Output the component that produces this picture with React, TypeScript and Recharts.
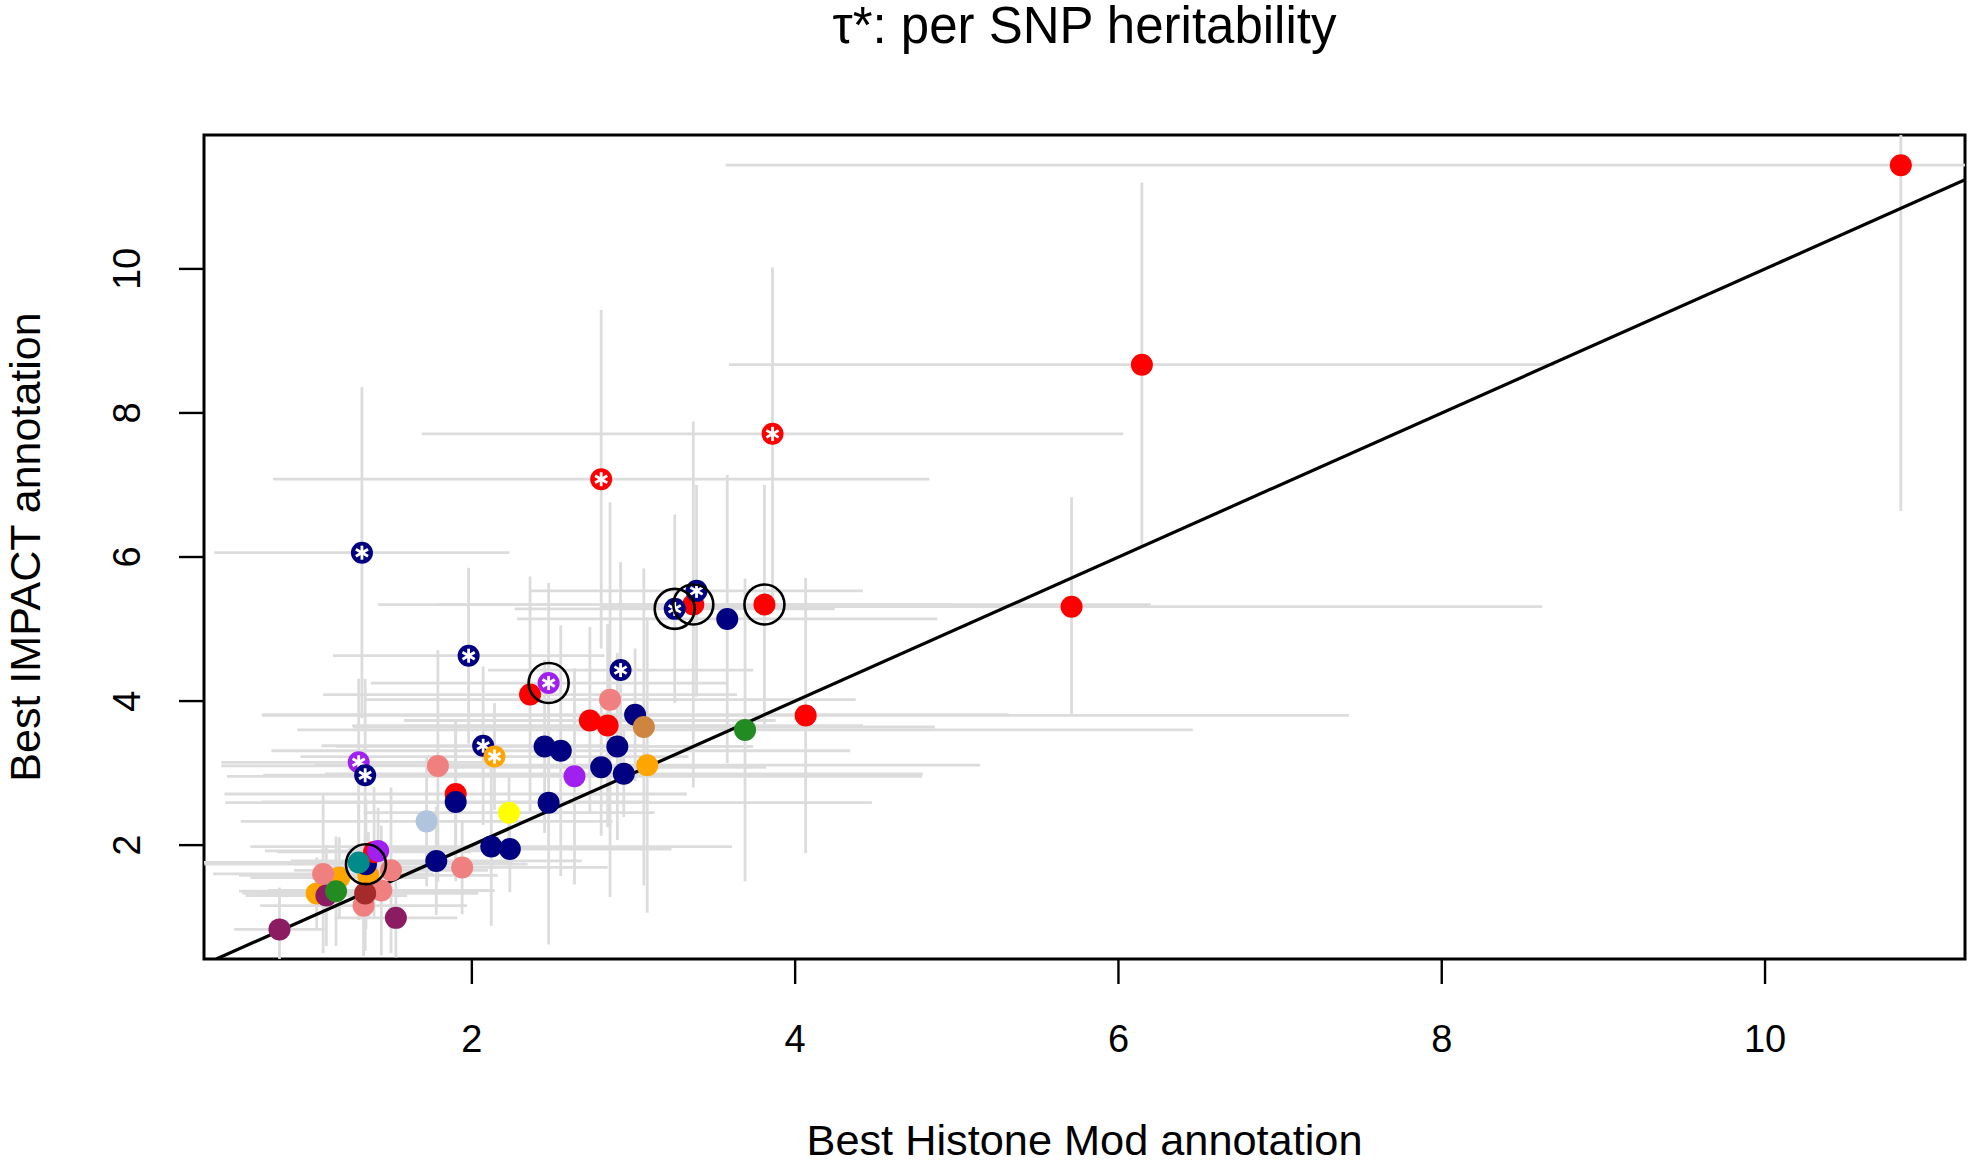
import { ErrorBar, Label, ReferenceArea, Scatter, ScatterChart, XAxis, YAxis } from "recharts";

const FONT = '"Liberation Sans", Arial, Helvetica, sans-serif';

const NAVY = "#000080";
const RED = "#FF0000";
const PINK = "#F08080";
const ORANGE = "#FFA500";
const PURPLE = "#A020F0";
const GREEN = "#228B22";
const PERU = "#CD853F";
const BROWN = "#A52A2A";
const MAROON = "#8B1C62";
const TEAL = "#008B8B";
const YELLOW = "#FFFF00";
const STEEL = "#B0C4DE";

// tau* of the best histone mark annotation (x) and best IMPACT annotation (y), in draw order
const histoneTau = [
  1.04, 1.18, 1.36, 1.08, 1.33, 1.44, 1.5, 1.94, 0.81, 1.1,
  1.53, 1.16, 1.34, 1.345, 1.395, 1.42, 1.3, 1.72, 2.23, 1.79,
  2.855, 1.9, 2.36, 2.73, 2.84, 3.37, 3.81, 4.065, 5.71, 6.145,
  3.86, 2.8, 10.84, 1.3, 2.635, 1.32, 1.98, 2.92, 3.01, 2.45,
  2.55, 2.9, 2.8, 2.94, 2.07, 1.34, 1.9, 2.475, 2.12, 2.235,
  1.78, 3.255, 3.39, 3.58, 2.475, 3.085, 2.14, 3.064, 3.69,
];
const impactTau = [
  1.33, 1.55, 1.58, 1.6, 1.16, 1.37, 1.65, 1.69, 0.83, 1.3,
  0.99, 1.36, 1.33, 1.735, 1.905, 1.92, 1.76, 2.33, 2.45, 3.1,
  4.02, 2.71, 4.09, 3.73, 3.66, 5.34, 5.34, 3.8, 5.31, 8.67,
  7.71, 7.08, 11.44, 3.15, 2.955, 6.06, 4.63, 4.43, 3.81, 3.37,
  3.31, 3.37, 3.08, 2.99, 3.38, 2.97, 2.6, 2.59, 1.98, 1.945,
  1.78, 5.28, 5.53, 5.14, 4.25, 3.11, 3.23, 3.64, 3.6,
];
// half-widths of the grey confidence bars
const histoneCi = [
  0.46, 0.55, 0.8, 0.68, 0.64, 0.7, 0.6, 0.9, 0.28, 0.5,
  0.38, 0.6, 0.7, 1.0, 0.6, 0.7, 0.96, 1.15, 0.9, 1.34,
  1.52, 1.43, 1.28, 1.15, 1.58, 1.6, 2.39, 3.36, 2.91, 2.555,
  2.17, 2.03, 7.27, 0.85, 2.15, 0.913, 0.84, 0.82, 2.31, 1.29,
  1.79, 0.84, 1.02, 1.85, 1.0, 0.63, 1.2, 2.0, 1.49, 1.0,
  0.9, 0.99, 1.03, 1.3, 1.1, 2.06, 1.2, 1.8, 2.77,
];
const impactCi = [
  0.5, 0.56, 0.6, 1.1, 0.7, 0.9, 1.15, 0.65, 0.58, 0.7,
  0.55, 0.76, 0.8, 0.9, 0.9, 0.6, 0.8, 0.9, 0.55, 1.61,
  2.74, 1.0, 1.64, 1.3, 1.41, 2.54, 1.66, 1.91, 1.52, 2.53,
  2.31, 2.35, 4.8, 1.16, 1.5, 2.3, 1.22, 1.5, 0.92, 1.2,
  1.74, 1.3, 0.95, 0.6, 1.1, 1.34, 1.1, 1.97, 1.1, 0.6,
  0.75, 1.31, 1.47, 2.0, 1.39, 2.05, 0.74, 2.2, 2.1,
];
const dotColors = [
  ORANGE, ORANGE, ORANGE, PINK, PINK, PINK, PINK, PINK, MAROON, MAROON,
  MAROON, GREEN, BROWN, NAVY, RED, PURPLE, TEAL, STEEL, YELLOW, PINK,
  PINK, RED, RED, RED, RED, RED, RED, RED, RED, RED,
  RED, RED, RED, PURPLE, PURPLE, NAVY, NAVY, NAVY, NAVY, NAVY,
  NAVY, NAVY, NAVY, NAVY, NAVY, NAVY, NAVY, NAVY, NAVY, NAVY,
  NAVY, NAVY, NAVY, NAVY, PURPLE, ORANGE, ORANGE, PERU, GREEN,
];
// 1 = white asterisk inside the dot
const starFlags = [
  0, 0, 0, 0, 0, 0, 0, 0, 0, 0,
  0, 0, 0, 0, 0, 0, 0, 0, 0, 0,
  0, 0, 0, 0, 0, 0, 0, 0, 0, 0,
  1, 1, 0, 1, 0, 1, 1, 1, 0, 0,
  0, 0, 0, 0, 1, 1, 0, 0, 0, 0,
  0, 1, 1, 0, 1, 0, 1, 0, 0,
];
// 1 = black ring around the dot
const ringFlags = [
  0, 0, 0, 0, 0, 0, 0, 0, 0, 0,
  0, 0, 0, 1, 0, 0, 0, 0, 0, 0,
  0, 0, 0, 0, 0, 1, 1, 0, 0, 0,
  0, 0, 0, 0, 0, 0, 0, 0, 0, 0,
  0, 0, 0, 0, 0, 0, 0, 0, 0, 0,
  0, 1, 0, 0, 1, 0, 0, 0, 0,
];

const TICKS = [2, 4, 6, 8, 10];
const X_DOMAIN: [number, number] = [0.343, 11.237];
const Y_DOMAIN: [number, number] = [0.419, 11.859];
const IDENTITY = [0.419, 11.237];

// plot area in pixels (used for the error bar clip only)
const PLOT = { left: 204, top: 135, width: 1761, height: 824 };

const points = histoneTau.map((x, i) => ({
  x,
  y: impactTau[i],
  xe: histoneCi[i],
  ye: impactCi[i],
  color: dotColors[i],
  star: starFlags[i] === 1,
  ring: ringFlags[i] === 1,
}));
const ringed = points.filter((p) => p.ring);
const identityLine = IDENTITY.map((v) => ({ x: v, y: v }));

const Nothing = () => <g />;

// y = x line, drawn through the points Recharts computed for the two ends
function IdentityPath(props: any) {
  const pts = props.points ?? [];
  if (pts.length < 2) return <g />;
  const d = pts.map((p: any, i: number) => `${i ? "L" : "M"}${p.x},${p.y}`).join("");
  return <path d={d} fill="none" stroke="#000" strokeWidth={3.2} />;
}

function Dot(props: any) {
  const { cx, cy, payload } = props;
  if (cx == null || cy == null) return <g />;
  return (
    <g>
      <circle cx={cx} cy={cy} r={11} fill={payload.color} />
      {payload.star && (
        <g stroke="#fff" strokeWidth={2.8}>
          <line x1={cx} y1={cy - 7} x2={cx} y2={cy + 7} />
          <line x1={cx - 6.1} y1={cy - 3.5} x2={cx + 6.1} y2={cy + 3.5} />
          <line x1={cx - 6.1} y1={cy + 3.5} x2={cx + 6.1} y2={cy - 3.5} />
        </g>
      )}
    </g>
  );
}

function Ring(props: any) {
  const { cx, cy } = props;
  if (cx == null || cy == null) return <g />;
  return <circle cx={cx} cy={cy} r={20} fill="none" stroke="#000" strokeWidth={2.6} />;
}

function XTick({ x, y, payload }: any) {
  return (
    <text x={x} y={y + 68} textAnchor="middle" fontSize={38} fontFamily={FONT} fill="#000">
      {payload.value}
    </text>
  );
}

function YTick({ x, y, payload }: any) {
  const bx = x - 39;
  return (
    <text
      x={bx}
      y={y}
      transform={`rotate(-90 ${bx} ${y})`}
      textAnchor="middle"
      fontSize={38}
      fontFamily={FONT}
      fill="#000"
    >
      {payload.value}
    </text>
  );
}

function XTitle() {
  return (
    <text x={1084.5} y={1155} textAnchor="middle" fontSize={43.3} fontFamily={FONT} fill="#000">
      Best Histone Mod annotation
    </text>
  );
}

function YTitle() {
  return (
    <text
      x={40}
      y={547}
      transform="rotate(-90 40 547)"
      textAnchor="middle"
      fontSize={43}
      fontFamily={FONT}
      fill="#000"
    >
      Best IMPACT annotation
    </text>
  );
}

export default function App() {
  return (
    <div style={{ position: "relative", width: 1973, height: 1164, background: "#fff" }}>
      <style>
        {"body{margin:0}" +
          ".recharts-errorBars,.recharts-errorBar{clip-path:url(#plot-clip)}" +
          ".recharts-scatter-line path{stroke:#000;stroke-width:3.2px}"}
      </style>
      <svg width={0} height={0} style={{ position: "absolute" }}>
        <defs>
          <clipPath id="plot-clip" clipPathUnits="userSpaceOnUse">
            <rect x={PLOT.left} y={PLOT.top} width={PLOT.width} height={PLOT.height} />
          </clipPath>
        </defs>
      </svg>
      <div
        style={{
          position: "absolute",
          top: 1,
          left: PLOT.left,
          width: PLOT.width,
          height: 50,
          lineHeight: "50px",
          textAlign: "center",
          fontFamily: FONT,
          fontSize: 51,
          color: "#000",
        }}
      >
        τ*: per SNP heritability
      </div>
      <ScatterChart width={1973} height={1164} margin={{ top: 135, right: 8, bottom: 0, left: 0 }}>
        <XAxis
          type="number"
          dataKey="x"
          domain={X_DOMAIN}
          allowDataOverflow
          ticks={TICKS}
          height={205}
          axisLine={false}
          tickLine={{ stroke: "#000", strokeWidth: 2.4 }}
          tickSize={25}
          tickMargin={0}
          tick={<XTick />}
          label={<Label content={<XTitle />} />}
        />
        <YAxis
          type="number"
          dataKey="y"
          domain={Y_DOMAIN}
          allowDataOverflow
          ticks={TICKS}
          width={204}
          axisLine={false}
          tickLine={{ stroke: "#000", strokeWidth: 2.4 }}
          tickSize={25}
          tickMargin={0}
          tick={<YTick />}
          label={<Label content={<YTitle />} />}
        />
        <Scatter
          data={identityLine}
          line={<IdentityPath />}
          stroke="#000"
          strokeWidth={3.2}
          shape={Nothing}
          isAnimationActive={false}
        />
        <Scatter data={points} shape={Nothing} isAnimationActive={false}>
          <ErrorBar dataKey="xe" direction="x" width={0} stroke="#DCDCDC" strokeWidth={2.8} isAnimationActive={false} />
          <ErrorBar dataKey="ye" direction="y" width={0} stroke="#DCDCDC" strokeWidth={2.8} isAnimationActive={false} />
        </Scatter>
        <Scatter data={points} shape={Dot} isAnimationActive={false} />
        <Scatter data={ringed} shape={Ring} isAnimationActive={false} />
        <ReferenceArea
          x1={X_DOMAIN[0]}
          x2={X_DOMAIN[1]}
          y1={Y_DOMAIN[0]}
          y2={Y_DOMAIN[1]}
          fill="none"
          stroke="#000"
          strokeWidth={3}
        />
      </ScatterChart>
    </div>
  );
}
